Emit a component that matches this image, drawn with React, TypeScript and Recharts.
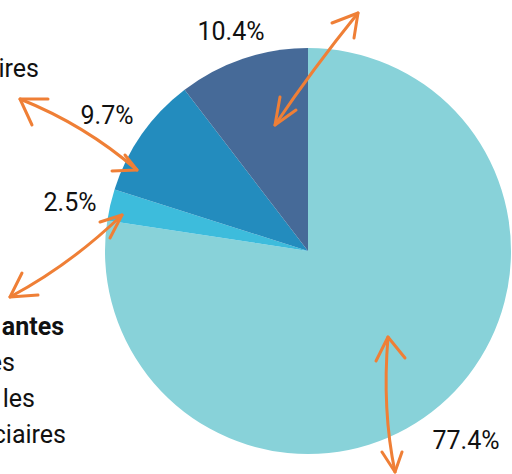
import React from "react";
import { PieChart, Pie, Cell } from "recharts";

const categories = ["A", "B", "C", "D"];
const shares = [77.4, 2.5, 9.7, 10.4];
const percentLabels = ["77.4%", "2.5%", "9.7%", "10.4%"];
const sideTexts = ["ires", "antes", "es", "les", "ciaires"];

const colors = ["#88D2D9", "#3DBCDC", "#238CBE", "#466A98"];
const ORANGE = "#EF7F36";

const data = categories.map((c, i) => ({ name: c, value: shares[i] }));

// annotation layout
const labelLayout = [
  { x: 466, y: 449 },
  { x: 70, y: 211 },
  { x: 107, y: 124 },
  { x: 231, y: 40 },
];
const sideLayout = [
  { x: 39, y: 77, bold: false },
  { x: 64, y: 335, bold: true },
  { x: 15, y: 371, bold: false },
  { x: 35, y: 407, bold: false },
  { x: 66, y: 443, bold: false },
];

const arrows = [
  {
    d: "M275,125 Q312,70 358,13",
    h1: "M280,97 L275,125 L296,110",
    h2: "M332,23 L358,13 L354,38",
  },
  {
    d: "M20,99 Q85,125 137,170",
    h1: "M48,99 L20,99 L32,125",
    h2: "M112,171 L137,170 L125,155",
  },
  {
    d: "M122,215 Q70,265 10,297",
    h1: "M100,222 L122,215 L110,238",
    h2: "M38,295 L10,297 L22,273",
  },
  {
    d: "M388,337 Q382,410 395,472",
    h1: "M376,361 L388,337 L405,358",
    h2: "M382,452 L395,472 L402,452",
  },
];

const Annotations = () => (
  <svg
    width={512}
    height={474}
    style={{ position: "absolute", left: 0, top: 0, pointerEvents: "none" }}
  >
    {arrows.map((a, i) => (
      <g key={i} fill="none" stroke={ORANGE} strokeWidth={3} strokeLinecap="round" strokeLinejoin="round">
        <path d={a.d} />
        <path d={a.h1} />
        <path d={a.h2} />
      </g>
    ))}
    {percentLabels.map((t, i) => (
      <text
        key={"p" + i}
        x={labelLayout[i].x}
        y={labelLayout[i].y}
        textAnchor="middle"
        fontFamily="Roboto"
        fontSize={25}
        fill="#111"
      >
        {t}
      </text>
    ))}
    {sideTexts.map((t, i) => (
      <text
        key={"s" + i}
        x={sideLayout[i].x}
        y={sideLayout[i].y}
        textAnchor="end"
        fontFamily="Roboto"
        fontSize={25}
        fontWeight={sideLayout[i].bold ? 700 : 400}
        fill="#111"
      >
        {t}
      </text>
    ))}
  </svg>
);

export default function App() {
  return (
    <div style={{ position: "absolute", left: 0, top: 0, width: 512, height: 474 }}>
      <PieChart width={512} height={474} margin={{ top: 0, right: 0, bottom: 0, left: 0 }}>
        <Pie
          data={data}
          dataKey="value"
          nameKey="name"
          cx={308}
          cy={251}
          outerRadius={203}
          startAngle={90}
          endAngle={-270}
          stroke="none"
          isAnimationActive={false}
          label={false}
          labelLine={false}
        >
          {data.map((d, i) => (
            <Cell key={d.name} fill={colors[i]} />
          ))}
        </Pie>
      </PieChart>
      <Annotations />
    </div>
  );
}
